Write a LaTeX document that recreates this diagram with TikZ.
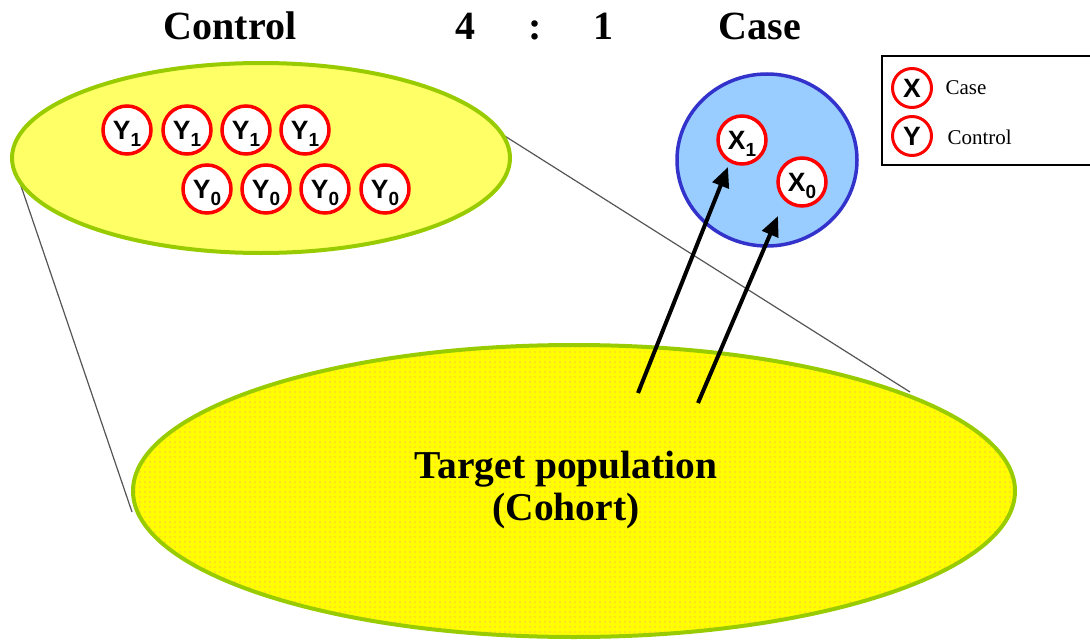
\documentclass[tikz,border=0pt]{standalone}
\usepackage{fontspec}
\setmainfont{Liberation Serif}
\newfontfamily\arialf{Liberation Sans}
\usetikzlibrary{arrows.meta,patterns.meta,shapes.geometric}
\definecolor{popgreen}{HTML}{99CC00}
\definecolor{paleyellow}{HTML}{FFFF66}
\definecolor{popyellow}{HTML}{FFFF00}
\definecolor{caseblue}{HTML}{99CCFF}
\definecolor{caseedge}{HTML}{3333CC}
\definecolor{zoomgray}{HTML}{555555}
\newcommand\lblsub[2]{#1\raisebox{-7pt}[0pt][0pt]{\fontsize{19}{19}\selectfont #2}}
\begin{document}
\begin{tikzpicture}[x=1pt,y=-1pt,
  member/.style={circle, draw=red, line width=3.5pt, fill=white, minimum size=48pt, inner sep=0pt,
    font=\arialf\bfseries\fontsize{26.5}{26.5}\selectfont},
  legmark/.style={member, minimum size=39pt, line width=3pt},
  title/.style={font=\bfseries\fontsize{40}{40}\selectfont, anchor=base},
  legtext/.style={font=\fontsize{21}{21}\selectfont, anchor=base west},
  zoomline/.style={draw=zoomgray, line width=1.2pt},
  pick/.style={line width=4pt, -{Triangle[length=20pt,width=17pt]}}
]
\useasboundingbox (0,0) rectangle (1090,642);

% zoom guide lines
\coordinate (zl1) at (20,183);
\coordinate (zl2) at (132,512);
\coordinate (zr1) at (500,133);
\coordinate (zr2) at (910,392);
\draw[zoomline] (zl1) -- (zl2);
\draw[zoomline] (zr1) -- (zr2);

% target population
\node[ellipse, draw=popgreen, fill=popyellow, line width=4pt, minimum width=882pt, minimum height=292pt, inner sep=0pt] (pop) at (574,491) {};
\fill[pattern={Dots[radius=0.55pt, distance=5pt]}, pattern color=red!50] (574,491) ellipse [x radius=439pt, y radius=144pt];
\node[font=\bfseries\fontsize{39.5}{42}\selectfont, align=center] (poptext) at (566,490) {Target population\\(Cohort)};

% control sample
\node[ellipse, draw=popgreen, fill=paleyellow, line width=4pt, minimum width=498pt, minimum height=190pt, inner sep=0pt] (ctrl) at (261,158) {};
\node[member] (y11) at (127,130) {\lblsub{Y}{1}};
\node[member] (y12) at (187,130) {\lblsub{Y}{1}};
\node[member] (y13) at (246,130) {\lblsub{Y}{1}};
\node[member] (y14) at (305,130) {\lblsub{Y}{1}};
\node[member] (y01) at (207,189) {\lblsub{Y}{0}};
\node[member] (y02) at (266,189) {\lblsub{Y}{0}};
\node[member] (y03) at (325,189) {\lblsub{Y}{0}};
\node[member] (y04) at (385,189) {\lblsub{Y}{0}};

% case sample
\node[ellipse, draw=caseedge, fill=caseblue, line width=3.5pt, minimum width=180pt, minimum height=172pt, inner sep=0pt] (cases) at (767,160) {};
\node[member] (x1) at (742,140) {\lblsub{X}{1}};
\node[member] (x0) at (802,182) {\lblsub{X}{0}};

% arrows
\coordinate (a1s) at (638,393);
\coordinate (a1e) at (728,167);
\coordinate (a2s) at (698,403);
\coordinate (a2e) at (778,216);
\draw[pick] (a1s) -- (a1e);
\draw[pick] (a2s) -- (a2e);

% titles
\node[title] (tctrl) at (230,40) {Control};
\node[title] (tfour) at (465,40) {4};
\node[title] (tcolon) at (535,40) {:};
\node[title] (tone) at (603,40) {1};
\node[title] (tcase) at (760,40) {Case};

% legend
\draw[line width=2.5pt] (1095,56) -- (882,56) -- (882,165) -- (1095,165);
\node[legmark] (lx) at (912,88) {X};
\node[legmark] (ly) at (912,136) {Y};
\node[legtext] (lcase) at (942,95) {Case};
\node[legtext] (lctrl) at (944,144) {Control};
\end{tikzpicture}
\end{document}
